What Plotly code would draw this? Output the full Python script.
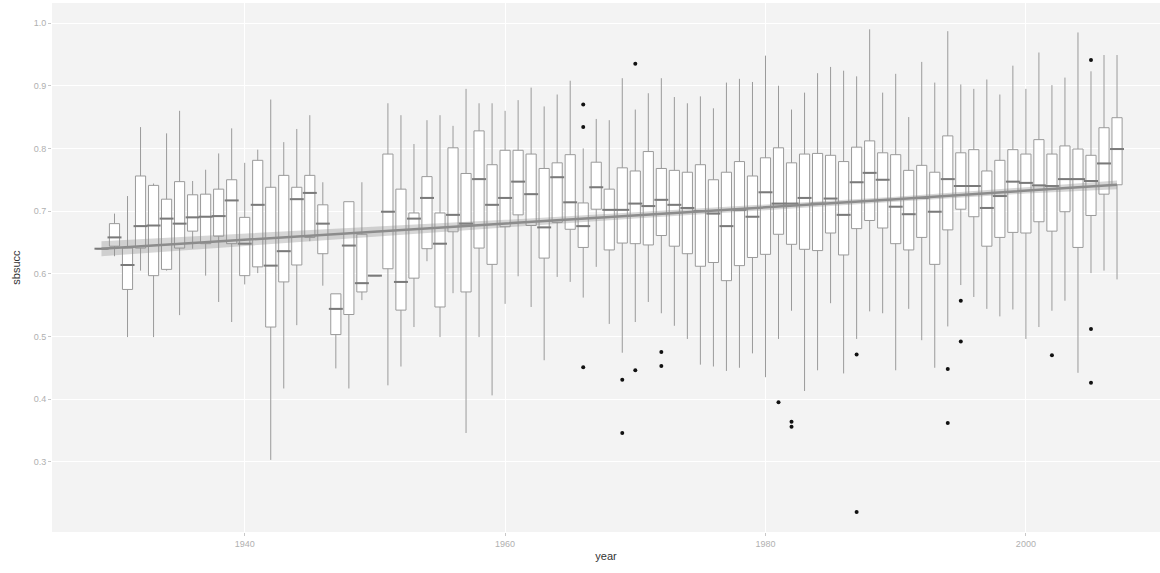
import plotly.graph_objects as go

years = list(range(1929, 2008))

lower = [0.640, 0.628, 0.499, 0.605, 0.499, 0.605, 0.534, 0.640, 0.597, 0.555,
         0.523, 0.583, 0.601, 0.303, 0.417, 0.518, 0.652, 0.581, 0.449, 0.417,
         0.558, 0.597, 0.422, 0.452, 0.515, 0.620, 0.499, 0.569, 0.346, 0.499,
         0.406, 0.552, 0.596, 0.547, 0.462, 0.595, 0.587, 0.562, 0.611, 0.520,
         0.474, 0.523, 0.555, 0.537, 0.517, 0.496, 0.455, 0.452, 0.445, 0.450,
         0.473, 0.435, 0.496, 0.541, 0.413, 0.446, 0.553, 0.441, 0.496, 0.540,
         0.537, 0.446, 0.544, 0.494, 0.450, 0.516, 0.582, 0.563, 0.544, 0.532,
         0.543, 0.496, 0.515, 0.541, 0.557, 0.442, 0.601, 0.605, 0.591]
q1 = [0.640, 0.644, 0.575, 0.641, 0.597, 0.607, 0.641, 0.668, 0.648, 0.660,
      0.648, 0.597, 0.611, 0.515, 0.587, 0.614, 0.658, 0.632, 0.503, 0.535,
      0.571, 0.597, 0.608, 0.542, 0.593, 0.640, 0.547, 0.667, 0.571, 0.641,
      0.615, 0.675, 0.694, 0.677, 0.625, 0.682, 0.671, 0.642, 0.703, 0.638,
      0.649, 0.648, 0.646, 0.661, 0.644, 0.632, 0.612, 0.618, 0.589, 0.613,
      0.626, 0.631, 0.663, 0.647, 0.639, 0.637, 0.665, 0.630, 0.672, 0.685,
      0.673, 0.648, 0.638, 0.658, 0.615, 0.670, 0.703, 0.691, 0.644, 0.658,
      0.666, 0.665, 0.683, 0.668, 0.699, 0.642, 0.693, 0.727, 0.742]
median = [0.640, 0.658, 0.614, 0.676, 0.677, 0.688, 0.680, 0.690, 0.691, 0.692,
          0.717, 0.648, 0.710, 0.613, 0.636, 0.719, 0.729, 0.680, 0.544, 0.645,
          0.585, 0.597, 0.699, 0.587, 0.688, 0.721, 0.648, 0.694, 0.680, 0.751,
          0.710, 0.721, 0.747, 0.727, 0.674, 0.754, 0.714, 0.676, 0.738, 0.702,
          0.702, 0.712, 0.708, 0.718, 0.710, 0.705, 0.700, 0.696, 0.676, 0.702,
          0.691, 0.730, 0.712, 0.712, 0.721, 0.712, 0.720, 0.694, 0.746, 0.761,
          0.750, 0.707, 0.695, 0.721, 0.699, 0.751, 0.740, 0.740, 0.705, 0.724,
          0.747, 0.745, 0.741, 0.740, 0.751, 0.751, 0.748, 0.776, 0.799]
q3 = [0.640, 0.680, 0.641, 0.756, 0.741, 0.719, 0.747, 0.726, 0.727, 0.735,
      0.750, 0.690, 0.781, 0.738, 0.757, 0.738, 0.757, 0.710, 0.568, 0.715,
      0.663, 0.597, 0.791, 0.735, 0.697, 0.755, 0.697, 0.801, 0.760, 0.828,
      0.774, 0.797, 0.797, 0.791, 0.768, 0.777, 0.790, 0.713, 0.778, 0.735,
      0.769, 0.764, 0.795, 0.768, 0.765, 0.762, 0.774, 0.750, 0.762, 0.779,
      0.756, 0.785, 0.801, 0.777, 0.791, 0.792, 0.789, 0.779, 0.802, 0.812,
      0.793, 0.790, 0.765, 0.773, 0.762, 0.820, 0.793, 0.798, 0.764, 0.781,
      0.798, 0.791, 0.814, 0.791, 0.804, 0.799, 0.789, 0.833, 0.849]
upper = [0.640, 0.696, 0.724, 0.834, 0.744, 0.824, 0.860, 0.748, 0.766, 0.792,
         0.832, 0.777, 0.798, 0.878, 0.810, 0.831, 0.853, 0.746, 0.568, 0.715,
         0.746, 0.597, 0.872, 0.853, 0.807, 0.845, 0.853, 0.836, 0.895, 0.872,
         0.872, 0.860, 0.877, 0.897, 0.867, 0.886, 0.908, 0.800, 0.847, 0.845,
         0.912, 0.862, 0.888, 0.912, 0.882, 0.872, 0.883, 0.864, 0.905, 0.911,
         0.906, 0.948, 0.900, 0.862, 0.889, 0.920, 0.930, 0.924, 0.915, 0.990,
         0.889, 0.919, 0.850, 0.938, 0.905, 0.987, 0.902, 0.895, 0.910, 0.886,
         0.932, 0.895, 0.953, 0.901, 0.913, 0.985, 0.923, 0.949, 0.949]

outlier_years = [1966, 1966, 1966, 1969, 1969, 1970, 1970, 1972, 1972, 1981,
                 1982, 1982, 1987, 1987, 1994, 1994, 1995, 1995, 2002, 2005,
                 2005, 2005]
outlier_vals = [0.870, 0.834, 0.451, 0.431, 0.346, 0.935, 0.446, 0.475, 0.453, 0.395,
                0.364, 0.356, 0.471, 0.220, 0.448, 0.362, 0.557, 0.492, 0.470, 0.941,
                0.512, 0.426]

trend_years = [1929, 1940, 1950, 1960, 1970, 1980, 1990, 2000, 2007]
trend_fit = [0.640, 0.654, 0.667, 0.680, 0.693, 0.706, 0.719, 0.733, 0.742]
trend_lo = [0.628, 0.644, 0.659, 0.674, 0.688, 0.702, 0.715, 0.728, 0.735]
trend_hi = [0.652, 0.664, 0.675, 0.686, 0.698, 0.710, 0.723, 0.738, 0.749]

fig = go.Figure()

fig.add_trace(go.Box(
    x=years, q1=q1, median=median, q3=q3,
    lowerfence=lower, upperfence=upper,
    width=0.78, whiskerwidth=0, boxpoints=False,
    fillcolor="white", line=dict(color="#9a9a9a", width=1),
    showlegend=False, hoverinfo="skip",
))
fig.add_trace(go.Scatter(
    x=years, y=median, mode="markers",
    marker=dict(symbol="line-ew", size=10, line=dict(color="#7a7a7a", width=2)),
    showlegend=False, hoverinfo="skip",
))
fig.add_trace(go.Scatter(
    x=outlier_years, y=outlier_vals, mode="markers",
    marker=dict(color="#111111", size=4),
    showlegend=False,
))
fig.add_trace(go.Scatter(
    x=trend_years + trend_years[::-1], y=trend_hi + trend_lo[::-1],
    fill="toself", fillcolor="rgba(140,140,140,0.35)", line=dict(width=0),
    mode="lines", showlegend=False, hoverinfo="skip",
))
fig.add_trace(go.Scatter(
    x=trend_years, y=trend_fit, mode="lines",
    line=dict(color="#8c8c8c", width=2.5),
    showlegend=False,
))

fig.update_layout(
    width=1160, height=573,
    margin=dict(l=52, r=0, t=3, b=41),
    paper_bgcolor="white", plot_bgcolor="#f3f3f3",
    font=dict(family="Liberation Sans, Arial, sans-serif", color="#333333"),
    xaxis=dict(
        range=[1925.2, 2010.3], tickvals=[1940, 1960, 1980, 2000],
        ticks="outside", ticklen=3, tickcolor="#c8c8c8",
        tickfont=dict(size=9, color="#b0b0b0"),
        showgrid=True, gridcolor="white", gridwidth=1, zeroline=False,
        automargin=False,
        title=dict(text="year", font=dict(size=11, color="#333333"), standoff=4),
    ),
    yaxis=dict(
        range=[0.188, 1.032], tickvals=[0.3, 0.4, 0.5, 0.6, 0.7, 0.8, 0.9, 1.0],
        ticktext=["0.3", "0.4", "0.5", "0.6", "0.7", "0.8", "0.9", "1.0"],
        ticks="outside", ticklen=3, tickcolor="#c8c8c8",
        tickfont=dict(size=9, color="#b0b0b0"),
        showgrid=True, gridcolor="white", gridwidth=1, zeroline=False,
        automargin=False,
        title=dict(text="sbsucc", font=dict(size=11, color="#333333"), standoff=10),
    ),
)

fig.write_html(
    "out.html",
    config={"displayModeBar": False},
    post_script="document.body.style.margin='0';document.body.style.overflow='hidden';",
)
